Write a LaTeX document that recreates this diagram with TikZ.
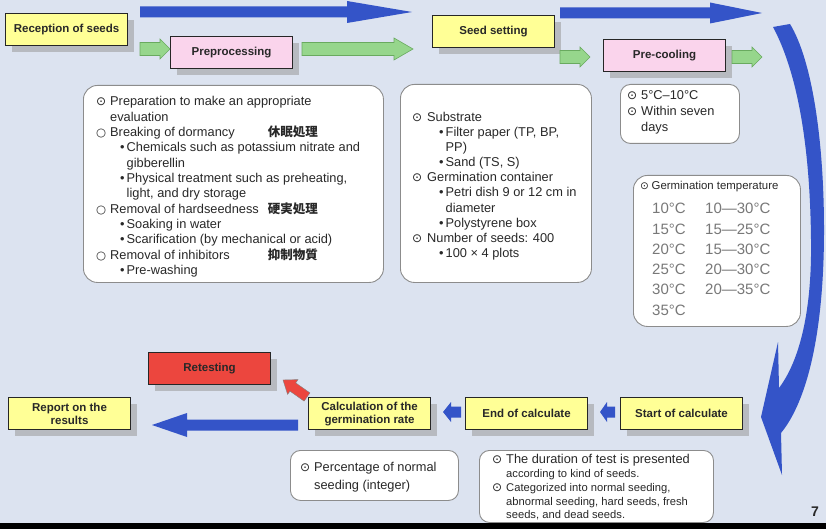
\documentclass[tikz,border=0pt]{standalone}
\usepackage{fontspec}
\setmainfont{Liberation Sans}
\newfontfamily\symf{DejaVu Sans}
\newfontfamily\cjk{Noto Sans CJK JP}
\usetikzlibrary{shadows}

\definecolor{bg}{RGB}{220,227,240}
\definecolor{lblyellow}{RGB}{255,255,150}
\definecolor{lblpink}{RGB}{250,212,236}
\definecolor{lblred}{RGB}{236,70,62}
\definecolor{arrblue}{RGB}{52,84,200}
\definecolor{arrgreen}{RGB}{150,214,140}
\definecolor{arrgreenedge}{RGB}{105,170,95}
\definecolor{ink}{RGB}{40,40,40}
\definecolor{tempgray}{RGB}{120,120,120}
\definecolor{panelline}{RGB}{140,140,140}

% bullet marks used in the text panels
\newcommand\bo{\makebox[14pt][l]{\symf\fontsize{12}{12}\selectfont ⊙}}
\newcommand\bow{\makebox[15pt][l]{\symf\fontsize{12}{12}\selectfont ⊙}}
\newcommand\bc{\makebox[14pt][l]{\symf\fontsize{11.5}{12}\selectfont\bfseries ○}}
\newcommand\bu{\makebox[6.5pt][l]{•}}

% horizontal block arrow: style, x tail, x tip, y, shaft half height, head half height, x of head base
\newcommand\harrow[7]{%
  \filldraw[#1] (#2,{#4-#5}) -- (#7,{#4-#5}) -- (#7,{#4-#6}) -- (#3,#4)
     -- (#7,{#4+#6}) -- (#7,{#4+#5}) -- (#2,{#4+#5}) -- cycle;}

\tikzset{
  lbl/.style={draw=black!85, line width=1.1pt, minimum width=122pt, minimum height=32pt,
    inner sep=1pt, align=center, anchor=north west, text=ink,
    font=\fontsize{11.5}{13}\selectfont\bfseries,
    drop shadow={shadow xshift=6pt, shadow yshift=-6pt, fill=black!40, opacity=.55}},
  yel/.style={lbl, fill=lblyellow},
  pinklbl/.style={lbl, fill=lblpink},
  redlbl/.style={lbl, fill=lblred},
  panel/.style={draw=panelline, line width=.9pt, fill=white, rounded corners=14pt,
    anchor=north west, inner sep=0pt},
  txt/.style={anchor=base west, inner sep=0pt, text=ink, font=\fontsize{12.8}{14}\selectfont},
  smalltxt/.style={txt, font=\fontsize{11.2}{12}\selectfont},
  temp/.style={anchor=base west, inner sep=0pt, text=tempgray, font=\fontsize{15}{16}\selectfont},
  cjktxt/.style={anchor=base east, inner sep=0pt, text=ink, font=\fontsize{12.5}{14}\selectfont\cjk\bfseries},
  bluearrow/.style={fill=arrblue, draw=none},
  greenarrow/.style={fill=arrgreen, draw=arrgreenedge, line width=.6pt},
}

\begin{document}
\begin{tikzpicture}[x=1pt,y=-1pt]
\useasboundingbox (0,0) rectangle (826,529);
\fill[bg] (0,0) rectangle (826,529);

% ---- top row: blue flow arrows
\harrow{bluearrow}{140}{412}{12}{5.5}{11}{347}
\harrow{bluearrow}{560}{762}{13}{5.5}{10.5}{710}

% ---- step labels
\node[yel] (reception) at (5,13) {Reception of seeds};
\node[pinklbl] (preproc) at (170,36) {Preprocessing};
\node[yel] (seedset) at (432,15) {Seed setting};
\node[pinklbl] (precool) at (603,39) {Pre-cooling};

% ---- green step arrows
\harrow{greenarrow}{140}{170}{49}{6.5}{10}{160}
\harrow{greenarrow}{302}{413}{49}{6.5}{11}{394}
\harrow{greenarrow}{560}{590}{57}{6.5}{10}{580}
\harrow{greenarrow}{732}{762}{57}{6.5}{10}{752}

% ---- big curved return arrow on the right
\fill[arrblue] (773,27) -- (790,24)
  .. controls (812,60) and (824,140) .. (824,230)
  .. controls (824,330) and (808,400) .. (781,433)
  -- (782,475) -- (761,417) -- (778,342) -- (779,388)
  .. controls (800,360) and (812,310) .. (811,240)
  .. controls (810,140) and (796,70) .. (773,27) -- cycle;

% ---- detail panels
\node[panel, minimum width=300pt, minimum height=197pt] (prepPanel) at (83,85) {};
\node[panel, minimum width=191pt, minimum height=198pt] (setPanel) at (400,84) {};
\node[panel, minimum width=119pt, minimum height=59pt, rounded corners=10pt] (coolPanel) at (620,84) {};
\node[panel, minimum width=167pt, minimum height=151pt] (tempPanel) at (633,175) {};
\node[panel, minimum width=168pt, minimum height=50pt, rounded corners=10pt] (ratePanel) at (290,450) {};
\node[panel, minimum width=234pt, minimum height=72pt, rounded corners=10pt] (durPanel) at (479,450) {};

% preprocessing details
\foreach \x/\y/\t [count=\i] in {
  96/106/{\bo Preparation to make an appropriate},
  110/121.3/{evaluation},
  96/136.6/{\bc Breaking of dormancy},
  120/151.9/{\bu Chemicals such as potassium nitrate and},
  126.5/167.2/{gibberellin},
  120/182.5/{\bu Physical treatment such as preheating,},
  126.5/197.8/{light, and dry storage},
  96/213.1/{\bc Removal of hardseedness},
  120/228.4/{\bu Soaking in water},
  120/243.7/{\bu Scarification (by mechanical or acid)},
  96/259/{\bc Removal of inhibitors},
  120/274.3/{\bu Pre-washing}}
  \node[txt] (prep\i) at (\x,\y) {\t};
\node[cjktxt] (jpDormancy) at (318,136.6) {休眠処理};
\node[cjktxt] (jpHard) at (318,213.1) {硬実処理};
\node[cjktxt] (jpInhib) at (318,259) {抑制物質};

% seed setting details
\foreach \x/\y/\t [count=\i] in {
  412/122/{\bow Substrate},
  439/137/{\bu Filter paper (TP, BP,},
  445.5/152/{PP)},
  439/167/{\bu Sand (TS, S)},
  412/182/{\bow Germination container},
  439/197/{\bu Petri dish 9 or 12 cm in},
  445.5/212/{diameter},
  439/227/{\bu Polystyrene box},
  412/242/{\bow Number of seeds: 400},
  439/257/{\bu 100 × 4 plots}}
  \node[txt] (set\i) at (\x,\y) {\t};

% pre-cooling details
\node[txt] (cool1) at (627,100) {\bo 5°C–10°C};
\node[txt] (cool2) at (627,116) {\bo Within seven};
\node[txt] (cool3) at (641,132) {days};

% germination temperatures
\node[smalltxt, font=\fontsize{11.4}{12}\selectfont] (tempHead) at (640,190) {\makebox[11.5pt][l]{\symf\fontsize{10.5}{10}\selectfont ⊙}Germination temperature};
\foreach \y/\a/\b [count=\i] in {214/10/10—30, 234/15/15—25, 254/20/15—30, 274/25/20—30, 294.5/30/20—35}{
  \node[temp] (tA\i) at (652,\y) {\a°C};
  \node[temp] (tB\i) at (705,\y) {\b°C};
}
\node[temp] (tA6) at (652,315) {35°C};

% ---- bottom row
\node[redlbl] (retest) at (148,352) {Retesting};
\node[yel] (report) at (8,397) {Report on the\\results};
\node[yel] (calcrate) at (308,397) {Calculation of the\\germination rate};
\node[yel] (endcalc) at (465,397) {End of calculate};
\node[yel] (startcalc) at (620,397) {Start of calculate};

\harrow{bluearrow}{298}{152}{425}{5.5}{12}{187}
\harrow{bluearrow}{461}{443}{412}{5.5}{10}{451}
\harrow{bluearrow}{615}{600}{412}{5.5}{10}{607}

% small red arrow towards retesting
\fill[lblred, draw=black!50, line width=.4pt]
  (309.9,392.9) -- (295.7,382.9) -- (298,379.6) -- (283,380) -- (287.6,394.4)
  -- (289.9,391.1) -- (304.1,401.1) -- cycle;

% rate and duration notes
\node[txt] (rate1) at (300,471) {\bo Percentage of normal};
\node[txt] (rate2) at (314,489) {seeding (integer)};
\node[txt] (dur1) at (492,463) {\bo The duration of test is presented};
\node[smalltxt] (dur2) at (506,477) {according to kind of seeds.};
\node[smalltxt] (dur3) at (492,491) {\bo Categorized into normal seeding,};
\node[smalltxt] (dur4) at (506,505) {abnormal seeding, hard seeds, fresh};
\node[smalltxt] (dur5) at (506,518.5) {seeds, and dead seeds.};

% page footer
\fill[black] (0,522.5) rectangle (826,529);
\node[anchor=base, inner sep=0pt, font=\fontsize{14}{14}\selectfont\bfseries, text=ink] (pagenum) at (815,516) {7};
\end{tikzpicture}
\end{document}
